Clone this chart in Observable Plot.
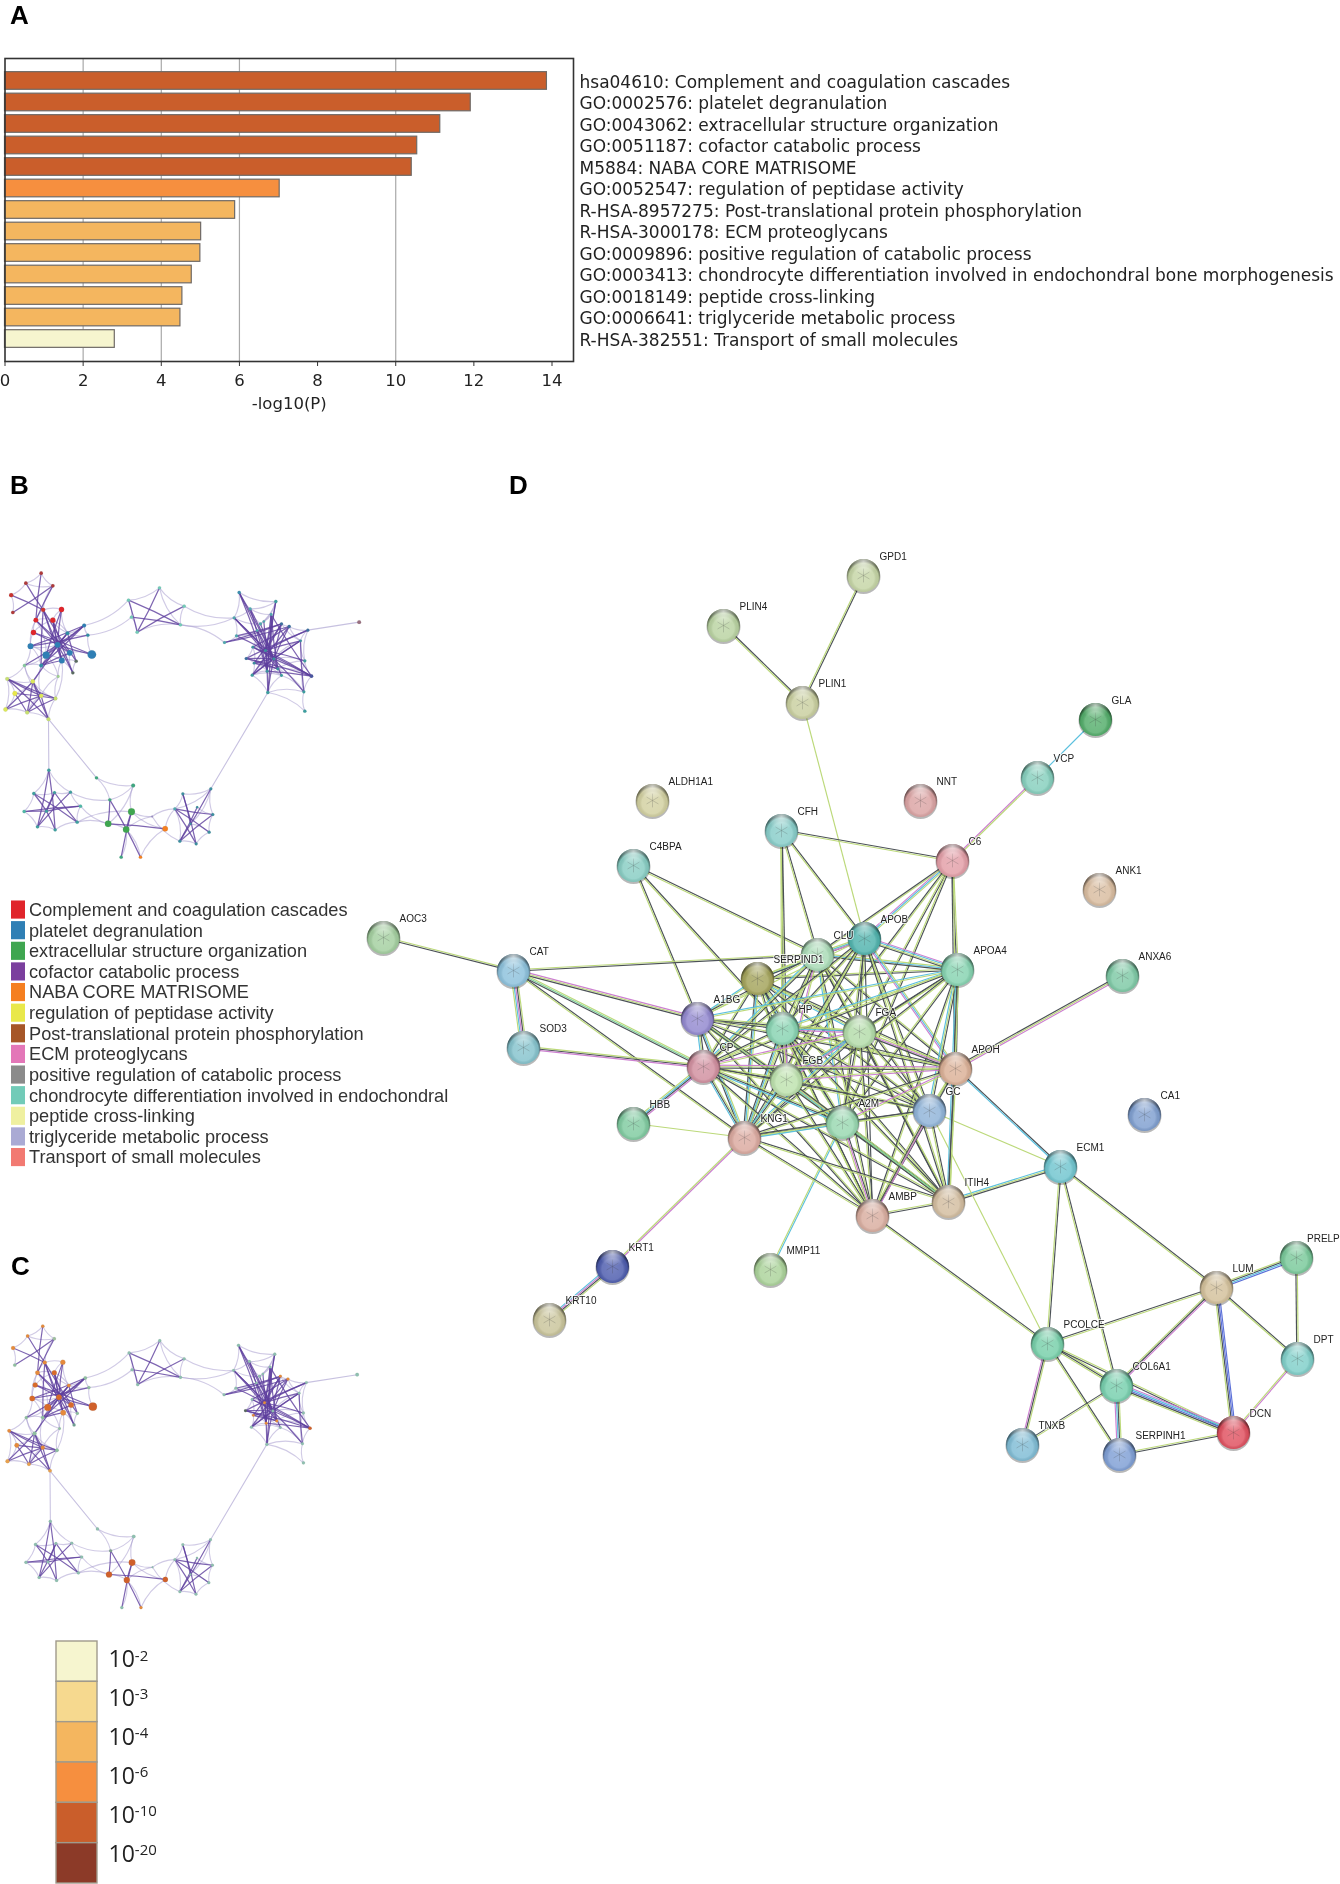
<!DOCTYPE html>
<html><head><meta charset="utf-8">
<script src="https://cdn.jsdelivr.net/npm/d3@7"></script>
<script src="https://cdn.jsdelivr.net/npm/@observablehq/plot@0.6"></script>
<style>
html,body{margin:0;padding:0;background:#fff}
#page{position:relative;width:1340px;height:1884px;overflow:hidden;background:#fff;filter:blur(.4px)}
#page>div{position:absolute}
.letter{font:bold 26px/26px "Liberation Sans",Arial,sans-serif;color:#000}
svg{display:block}
</style></head><body><div id="page"></div>
<script>
// ---------- Panel A ----------
const terms = ["hsa04610: Complement and coagulation cascades","GO:0002576: platelet degranulation","GO:0043062: extracellular structure organization","GO:0051187: cofactor catabolic process","M5884: NABA CORE MATRISOME","GO:0052547: regulation of peptidase activity","R-HSA-8957275: Post-translational protein phosphorylation","R-HSA-3000178: ECM proteoglycans","GO:0009896: positive regulation of catabolic process","GO:0003413: chondrocyte differentiation involved in endochondral bone morphogenesis","GO:0018149: peptide cross-linking","GO:0006641: triglyceride metabolic process","R-HSA-382551: Transport of small molecules"];
const logP = [13.87,11.92,11.14,10.55,10.41,7.03,5.89,5.02,5.0,4.78,4.54,4.49,2.81];
const barFill = ["#ca5e2b","#ca5e2b","#ca5e2b","#ca5e2b","#ca5e2b","#f68f3f","#f4b65f","#f4b65f","#f4b65f","#f4b65f","#f4b65f","#f4b65f","#f6f5cf"];
const xTicks = [0,2,4,6,8,10,12,14];
const gridTicks = [2,4,6,10];

// ---------- Panels B / C ----------
const legendTerms = ["Complement and coagulation cascades","platelet degranulation","extracellular structure organization","cofactor catabolic process","NABA CORE MATRISOME","regulation of peptidase activity","Post-translational protein phosphorylation","ECM proteoglycans","positive regulation of catabolic process","chondrocyte differentiation involved in endochondral","peptide cross-linking","triglyceride metabolic process","Transport of small molecules"];
const legendFill = ["#e0252b","#2f7fb5","#3fa650","#7b3f9e","#f57f20","#e9e84a","#a65628","#e377b8","#8b8b8b","#72cbb8","#eff0a0","#aaaad4","#f27a72"];
const pLabels = ["10-2","10-3","10-4","10-6","10-10","10-20"];
const pFill = ["#f6f5cf","#f6d98f","#f4b65f","#f68f3f","#ca5e2b","#8c3a28"];

// id, x, y, radius, colour in B, colour in C
const ringNodes = [
["r1",122,338,1.5,"#b03a3a","#e68a3c"],["r2",76,368,1.5,"#b03a3a","#e68a3c"],["r3",157,376,1.5,"#b03a3a","#9fbf9f"],["r4",32,404,1.8,"#c8322f","#e68a3c"],["r5",37,456,1.5,"#b03a3a","#8fbfa0"],
["r6",128,448,1.8,"#d0332f","#e68a3c"],["r7",183,447,2.2,"#e0252b","#e68a3c"],["r8",106,479,2,"#e0252b","#e68a3c"],["r9",157,479,2.2,"#e0252b","#d96a2a"],["r10",99,516,2.2,"#e0252b","#d96a2a"],
["b1",251,495,1.6,"#2f7fb5","#8fbfa0"],["b2",262,524,1.4,"#2f8fa5","#8fbfa0"],["b3",201,518,1.6,"#2f8fa5","#e68a3c"],["b4",90,557,2.4,"#2f7fb5","#d96a2a"],["b5",171,553,2.4,"#2f7fb5","#d96a2a"],
["b6",137,584,3,"#2f7fb5","#d96a2a"],["b7",208,577,2.4,"#2f7fb5","#d96a2a"],["b8",184,600,2.4,"#2f7fb5","#e68a3c"],["b9",274,582,3.6,"#2f7fb5","#d0602b"],["b10",227,602,1.4,"#5a6a60","#8fbfa0"],
["b11",217,637,1.4,"#5a6a60","#6fa090"],["b12",122,615,1.6,"#2f8fa5","#8fbfa0"],
["y1",72,615,1.4,"#88c8a0","#8fbfa0"],["y2",20,655,1.6,"#c8e070","#e68a3c"],["y3",97,663,1.8,"#dde85a","#8fbfa0"],["y4",43,699,2,"#e9e84a","#e68a3c"],["y5",122,706,1.8,"#dde85a","#e68a3c"],
["y6",165,714,1.6,"#c8e070","#8fbfa0"],["y7",15,747,1.8,"#dde85a","#e8a04e"],["y8",80,756,1.6,"#c8e070","#e8a04e"],["y9",144,776,1.6,"#c8e070","#e8a04e"],["y10",173,648,1.2,"#a0d090","#8fbfa0"],
["t1",384,419,1.4,"#72cbb8","#8fc0b0"],["t2",477,382,1.4,"#72cbb8","#8fc0b0"],["t3",551,437,1.4,"#72cbb8","#8fc0b0"],["t4",393,470,1.4,"#72cbb8","#8fc0b0"],["t5",410,515,1.4,"#72cbb8","#8fc0b0"],["t6",540,493,1.4,"#72cbb8","#8fc0b0"],
["p1",716,396,1.4,"#3c8fb0","#8fc0b0"],["p2",826,423,1.4,"#3c9fa0","#8fc0b0"],["p3",749,445,1.3,"#50a8b0","#8fc0b0"],["p4",701,472,1.3,"#50a8b0","#8fc0b0"],["p5",812,462,1.2,"#50a8b0","#8fc0b0"],
["p6",780,490,1.3,"#50a8b0","#8fc0b0"],["p7",708,526,1.3,"#50a8b0","#8fc0b0"],["p8",672,546,1.3,"#50a8b0","#8fc0b0"],["p10",843,490,1.3,"#3c6fa0","#e68a3c"],["p11",866,498,1.4,"#3c6fa0","#e68a3c"],
["p12",922,509,1.3,"#3c6fa0","#8fc0b0"],["p13",900,541,1.2,"#3c8fa0","#8fc0b0"],["p14",757,560,1.2,"#3c8fa0","#8fc0b0"],["p15",737,594,1.3,"#3c6fa0","#5a6a60"],["p16",795,570,1.3,"#3c8fa0","#e68a3c"],
["p17",820,595,1.3,"#3c8fa0","#8fc0b0"],["p18",913,601,1.3,"#3c9fa0","#8fc0b0"],["p19",761,608,1.2,"#3c8fa0","#e68a3c"],["p20",800,632,1.3,"#3c8fa0","#e68a3c"],["p21",832,625,1.3,"#3c8fa0","#e68a3c"],
["p22",755,644,1.3,"#3c9fa0","#8fc0b0"],["p23",843,645,1.2,"#3c9fa0","#8fc0b0"],["p24",933,647,1.5,"#4a55a0","#d0602b"],["p25",910,694,1.3,"#3c9fa0","#8fc0b0"],["p26",802,696,1.4,"#3c9fa0","#8fc0b0"],
["p27",913,752,1.4,"#3c9fa0","#8fc0b0"],["p28",770,510,1.1,"#50a8b0","#8fc0b0"],["p29",790,483,1.1,"#50a8b0","#8fc0b0"],["solo",1076,485,1.6,"#9a6f80","#8fc0b0"],
["g1",145,929,1.4,"#3fa0a0","#8fc0b0"],["g2",100,999,1.4,"#3fa0a0","#8fc0b0"],["g3",162,996,1.3,"#3fa0a0","#8fc0b0"],["g4",210,995,1.3,"#3fa0a0","#8fc0b0"],["g5",240,1037,1.4,"#50b8a8","#8fc0b0"],
["g6",71,1053,1.4,"#50b8a8","#8fc0b0"],["g7",138,1052,1.3,"#3fa0a0","#8fc0b0"],["g8",230,1085,1.4,"#3fa0a0","#8fc0b0"],["g9",111,1099,1.4,"#3fa0a0","#8fc0b0"],["g10",164,1108,1.4,"#3fa0a0","#8fc0b0"],
["m1",288,952,1.4,"#3fa680","#8fc0b0"],["m2",398,975,1.6,"#3fa680","#8fc0b0"],["m3",328,1018,1.4,"#3fa680","#7fa090"],["m4",393,1054,2.9,"#3fa650","#d0602b"],["m5",323,1090,2.7,"#3fa650","#d0602b"],
["m6",377,1107,2.7,"#3fa650","#d0602b"],["m7",494,1105,2.3,"#f57f20","#d0602b"],["m8",362,1190,1.4,"#3fa680","#8fc0b0"],["m9",420,1190,1.4,"#f57f20","#e68a3c"],["m10",455,1068,.8,"#9f8fc8","#8fc0b0"],
["n1",631,985,1.3,"#3c8fa0","#8fc0b0"],["n2",547,1000,1.3,"#3c8fa0","#8fc0b0"],["n3",523,1045,1.3,"#50a8b0","#8fc0b0"],["n4",637,1062,1.3,"#3c8fa0","#8fc0b0"],["n6",626,1115,1.3,"#3c8fa0","#8fc0b0"],
["n7",538,1142,1.3,"#3c8fa0","#8fc0b0"],["n8",587,1150,1.3,"#3c8fa0","#8fc0b0"],["n9",590,1040,1,"#3c8fa0","#8fc0b0"],["n10",570,1090,1,"#3c8fa0","#8fc0b0"]
];
const ringStrong = "r2-r6 r1-r8 r3-r8 r4-r6 r5-r3 r6-b8 r9-b8 r7-b6 r10-b9 b1-b4 b1-b6 r9-b11 b5-b11 b3-b10 b4-b2 r8-b7 b5-b9 b12-b3 r6-b12 b1-b12 r6-b5 r8-b5 r9-b5 r7-b5 r10-b5 b5-b3 b5-b1 b5-b7 b5-b8 r6-b10 b6-b3 y1-b5 y3-b5 b12-b8 b12-b7 y2-y6 y4-y6 y7-y3 y8-y3 y5-y9 y3-y9 y2-y5 y7-y5 y8-y6 y4-y8 y5-y3 y5-y8 y9-y2 t1-t5 t5-t2 t4-t6 t5-t3 t1-t6 p1-p17 p1-p16 p3-p20 p4-p16 p4-p21 p8-p10 p7-p16 p5-p26 p5-p20 p6-p23 p10-p19 p11-p22 p12-p15 p13-p22 p14-p24 p15-p24 p16-p24 p17-p25 p13-p25 p17-p24 p11-p14 p29-p20 p28-p21 p4-p17 p1-p20 p2-p20 p2-p16 p3-p17 p5-p16 p5-p21 p5-p24 p10-p16 p10-p17 p11-p17 p12-p16 p13-p16 p13-p17 p18-p16 p24-p20 p16-p26 p17-p26 p14-p17 p15-p17 p15-p21 p21-p19 p8-p11 p7-p10 p19-p17 p22-p17 g1-g10 g1-g9 g2-g8 g3-g9 g4-g9 g6-g5 g6-g7 g7-g3 g2-g7 g7-g5 g7-g10 g3-g8 m3-m5 m4-m8 m6-m4 m5-m7 m3-m9 n2-n8 n1-n7 n3-n6 n4-n3 n2-n10 n9-n7 n3-n8 n4-n7".split(" ");
const ringWeak = "r2-r1 r1-r3 r2-r3 r4-r5 r4-r2 r3-r6 r6-r7 r7-r9 r6-r8 r8-r10 r9-r10 r7-b3 b1-b2 b2-b3 b1-b3 b9-b2 b9-b7 b10-b11 b8-b11 b4-b5 b4-b6 b6-b8 b12-y1 y1-y3 y1-b6 y1-y2 y2-y4 y2-y7 y4-y7 y7-y8 y8-y9 y9-y6 y6-y10 y10-b12 y3-y6 y3-b12 y10-b8 y5-b12 r6-b3 r8-b6 r9-b3 r10-b4 r8-r9 r8-b4 b4-b12 b6-b12 b12-y3 y1-b4 y1-y5 y3-y5 y2-y3 y4-y3 y5-y6 y8-y5 y10-y5 b8-y6 b6-y10 b7-b11 b5-b7 b7-b8 b10-b8 t1-t2 t2-t3 t1-t4 t4-t5 t2-t6 t3-t6 t5-t6 b2-t4 b1-t1 p4-t6 p4-t3 p8-t6 p1-p2 p2-p3 p1-p4 p4-p7 p8-p7 p2-p6 p18-p24 p13-p18 p12-p13 p11-p12 p10-p11 p3-p5 p6-p29 p14-p15 p15-p19 p19-p22 p22-p20 p20-p23 p23-p21 p16-p19 p17-p21 p24-p25 p25-p27 p26-p27 p26-p25 p26-p22 p26-p23 p13-p11 p18-p25 p12-p18 p14-p16 p28-p16 p3-p6 p3-p4 p4-p6 p1-p3 p2-p29 p5-p29 p6-p28 p7-p28 p28-p14 p14-p19 p16-p17 p17-p18 p13-p17 p18-p21 p24-p21 p23-p25 p21-p25 p10-p13 p16-p22 p19-p20 p19-p23 p22-p23 g1-g2 g1-g4 g2-g6 g6-g9 g9-g10 g10-g8 g5-g8 g4-g5 g2-g3 g3-g4 g5-m5 g8-m5 g4-m3 g8-m4 m1-m2 m2-m3 m2-m5 m2-m4 m1-m3 m4-m10 m6-m9 m6-m8 m7-m9 m7-n3 m10-n3 m10-n7 m5-m6 m6-m10 m7-m4 n1-n2 n2-n3 n1-n4 n4-n6 n6-n8 n7-n8 n3-n7 n1-n3 n9-n4 n10-n6 n1-n10".split(" ");
const ringBridges = ["p12-solo","p26-n1","y9-g1","y9-m1"];

// ---------- Panel D ----------
const evidenceColor = {k:"#4b5156",g:"#bcd97a",p:"#cc7fd0",c:"#5bc0de",b:"#5a6fd8",n:"#7fd39a"};
const proteins = [
["PLIN4",723,625,"#b9d3a1"],["GPD1",863,575,"#c5d5a5"],["PLIN1",802,702,"#c9cf9f"],["ALDH1A1",652,800,"#d2d0a0"],["CFH",781,830,"#87cdc9"],["C4BPA",633,865,"#87cdc3"],["AOC3",383,937,"#a3cf9f"],["CAT",513,970,"#8cc1dc"],
["SERPIND1",757,978,"#a3a35a"],["CLU",817,954,"#a8dab5"],["APOB",864,938,"#4fb3ad"],["APOA4",957,969,"#85d3b0"],["A1BG",697,1018,"#9288cf"],["HP",782,1028,"#87d3b1"],["FGA",859,1031,"#b3dca9"],["SOD3",523,1047,"#85c3cd"],
["CP",703,1066,"#d18f9f"],["FGB",786,1079,"#bde2ad"],["APOH",955,1068,"#dbb096"],["GC",929,1110,"#8fb3d8"],["HBB",633,1123,"#7fcba0"],["A2M",842,1122,"#98d8b0"],["KNG1",744,1137,"#dba99f"],["AMBP",872,1215,"#d9ad9f"],
["ITIH4",948,1201,"#d3bd9f"],["KRT1",612,1266,"#4d5cae"],["MMP11",770,1269,"#abd39a"],["KRT10",549,1319,"#c9c49a"],["GLA",1095,719,"#53ad6a"],["VCP",1037,777,"#85cfbd"],["NNT",920,800,"#dba3a3"],["C6",952,860,"#e39ea7"],
["ANK1",1099,889,"#d9bc9f"],["ANXA6",1122,975,"#7dc9a5"],["CA1",1144,1114,"#7f9fd0"],["ECM1",1060,1166,"#70c5cf"],["LUM",1216,1287,"#d3c09a"],["PRELP",1296,1257,"#79c99a"],["DPT",1297,1358,"#7fcfc9"],["PCOLCE",1047,1343,"#76cfa9"],
["COL6A1",1116,1385,"#76cfad"],["TNXB",1022,1444,"#7fbcd5"],["SERPINH1",1119,1454,"#7f9fd5"],["DCN",1233,1432,"#e0505f"]
];
const outerLinks = ["GPD1 PLIN1 kg","PLIN4 PLIN1 kg","PLIN1 APOB g","VCP GLA c","C6 VCP pg","CFH C6 kg","C4BPA CLU kg","C4BPA A1BG kg","C4BPA HP kg","CFH HP kg","CFH CLU kg","CFH APOB kg","CFH FGB kg","AOC3 CAT gk","CAT CLU gk","CAT A1BG pgk","CAT SOD3 gkpcg","CAT CP gnk","CAT KNG1 kg","SOD3 CP gkp","CP HBB pkcg","HBB KNG1 g","KNG1 KRT1 pg","KRT1 KRT10 gkpc","A2M MMP11 cg","ANXA6 APOH pgk","APOH ECM1 kc","ITIH4 ECM1 cgk","GC ECM1 g","ECM1 PCOLCE kg","ECM1 LUM kg","ECM1 COL6A1 kg","AMBP PCOLCE kg","GC PCOLCE g","PCOLCE LUM kg","PCOLCE COL6A1 gkg","PCOLCE TNXB gkp","PCOLCE SERPINH1 kg","PCOLCE DCN gk","COL6A1 TNXB gk","COL6A1 SERPINH1 gkcp","COL6A1 DCN pcbkg","COL6A1 LUM gkp","LUM PRELP gkcb","LUM DPT kg","LUM DCN bbkg","PRELP DPT gk","DPT DCN pg","SERPINH1 DCN gk","C6 APOB gcp","C6 CLU gk","C6 FGA kg","C6 APOA4 gk","C6 APOH gk","C6 A2M kg","C6 FGB gk"];
const coreLinks = ["SERPIND1 CLU gc","SERPIND1 APOB gk","SERPIND1 APOA4 gk","SERPIND1 A1BG gc","SERPIND1 HP kg","SERPIND1 FGA kgc","SERPIND1 CP kg","SERPIND1 FGB kg","SERPIND1 APOH kg","SERPIND1 GC gk","SERPIND1 A2M gkc","SERPIND1 KNG1 gck","SERPIND1 AMBP kg","SERPIND1 ITIH4 kg",
"CLU APOB gcp","CLU APOA4 gck","CLU A1BG gk","CLU HP gk","CLU FGA gk","CLU CP kgc","CLU FGB gp","CLU APOH gk","CLU GC gk","CLU A2M gc","CLU KNG1 kg","CLU AMBP kg","CLU ITIH4 gk",
"APOB APOA4 pcgk","APOB A1BG g","APOB HP gk","APOB FGA gk","APOB CP gk","APOB FGB kg","APOB APOH gcp","APOB GC kg","APOB A2M kg","APOB KNG1 gk","APOB AMBP k","APOB ITIH4 gk",
"APOA4 A1BG gc","APOA4 HP gc","APOA4 FGA gk","APOA4 CP kg","APOA4 FGB gk","APOA4 APOH kg","APOA4 GC kgc","APOA4 A2M kg","APOA4 KNG1 gk","APOA4 AMBP gk","APOA4 ITIH4 gkc",
"A1BG HP gk","A1BG FGA gk","A1BG CP kgc","A1BG FGB gc","A1BG APOH gk","A1BG GC gk","A1BG A2M kcg","A1BG KNG1 gck","A1BG AMBP gk","A1BG ITIH4 gk",
"HP FGA gcp","HP CP gk","HP FGB pgk","HP APOH kg","HP GC gk","HP A2M kg","HP KNG1 gck","HP AMBP kg","HP ITIH4 kg",
"FGA CP gp","FGA FGB pcg","FGA APOH gpk","FGA GC kg","FGA A2M gk","FGA KNG1 kgc","FGA AMBP kg","FGA ITIH4 gk",
"CP FGB gk","CP APOH pgk","CP GC kg","CP A2M gkc","CP KNG1 gkc","CP AMBP kg","CP ITIH4 gk",
"FGB APOH gp","FGB GC gk","FGB A2M gpc","FGB KNG1 gkc","FGB AMBP kg","FGB ITIH4 kg",
"APOH GC kg","APOH A2M gp","APOH KNG1 gk","APOH AMBP kg","APOH ITIH4 gk",
"GC A2M gk","GC KNG1 gk","GC AMBP pkg","GC ITIH4 kg",
"A2M KNG1 cgk","A2M AMBP kpg","A2M ITIH4 gnk","KNG1 AMBP kg","KNG1 ITIH4 kg","AMBP ITIH4 gk"];

// ---------- helpers ----------
const page = document.getElementById("page");
function place(el,left,top){const d=document.createElement("div");d.style.left=left+"px";d.style.top=top+"px";d.appendChild(el);page.appendChild(d);return el;}
const sans='"Liberation Sans",Arial,sans-serif';

// Panel A
place(Plot.plot({
  width:1340,height:420,marginLeft:4.5,marginRight:767,marginTop:58,marginBottom:59,
  style:{background:"transparent",fontFamily:'"DejaVu Sans",sans-serif',fontSize:"16px",color:"#222"},
  x:{domain:[0,14.55]},
  y:{domain:terms,axis:null,paddingInner:0.18,paddingOuter:0.635,round:false},
  color:{type:"identity"},
  marks:[
    Plot.ruleX(gridTicks,{stroke:"#a9a9a9",strokeWidth:1.2}),
    Plot.barX(terms.map((t,i)=>({t,v:logP[i],f:barFill[i]})),{x:"v",y:"t",fill:"f",stroke:"#6f6a66",strokeWidth:1.2}),
    Plot.frame({stroke:"#333",strokeWidth:1.6}),
    Plot.axisX({ticks:xTicks,tickSize:5,tickPadding:8,label:"-log10(P)",labelAnchor:"center",labelArrow:"none",labelOffset:47,fontSize:16.5,stroke:"#333"}),
    Plot.text(terms,{y:d=>d,text:d=>d,frameAnchor:"right",textAnchor:"start",dx:6,dy:1.2,fontSize:17,fill:"#222"})
  ]
}),0,0);

// Panels B and C share one layout; a light edge bows toward the middle of its own cluster
const byId = new Map(ringNodes.map(n=>[n[0],n]));
const clusterOf = id=>id.replace(/\d+$/,"");
const centre = d3.rollup(ringNodes,v=>[d3.mean(v,n=>n[1]),d3.mean(v,n=>n[2])],n=>clusterOf(n[0]));
const edgesFrom = (list)=>list.map(s=>{
  let [a,b]=s.split("-"); a=byId.get(a); b=byId.get(b);
  const c=centre.get(clusterOf(a[0])), dx=b[1]-a[1], dy=b[2]-a[2];
  const side=(c[0]-(a[1]+b[1])/2)*dy-(c[1]-(a[2]+b[2])/2)*dx;
  return side>0?{a,b}:{a:b,b:a};
});
const strongE=edgesFrom(ringStrong),weakE=edgesFrom(ringWeak),bridgeE=edgesFrom(ringBridges);
function ring(colorIdx,rangeX,rangeY,w,h,scaleR){
  const link=(data,o)=>Plot.arrow(data,{x1:d=>d.a[1],y1:d=>d.a[2],x2:d=>d.b[1],y2:d=>d.b[2],headLength:0,...o});
  return Plot.plot({
    width:w,height:h,margin:0,
    style:{background:"transparent"},
    x:{domain:[0,1440],range:rangeX,axis:null},
    y:{domain:[0,1440],range:rangeY,axis:null},
    r:{type:"identity"},
    color:{type:"identity"},
    marks:[
      link(weakE,{stroke:"#a99fcf",strokeOpacity:.55,strokeWidth:1.15*scaleR,bend:18}),
      link(bridgeE,{stroke:"#a99fcf",strokeOpacity:.65,strokeWidth:1.1*scaleR,bend:0}),
      link(strongE,{stroke:"#5e3f9e",strokeOpacity:.8,strokeWidth:1.25*scaleR,bend:3}),
      Plot.dot(ringNodes,{x:d=>d[1],y:d=>d[2],r:d=>d[3]*scaleR*1.2,fill:d=>d[colorIdx],stroke:"#6a7a70",strokeOpacity:.3,strokeWidth:.3})
    ]
  });
}
place(ring(4,[0,480],[0,480],480,480,1),0,460);
place(ring(5,[2.06,476.6],[14,489.6],480,500,.95),0,1200);

// Pathway legend
place(Plot.plot({
  width:460,height:272,margin:0,
  style:{background:"transparent",fontFamily:sans},
  x:{domain:["a"],range:[11,25.7],padding:0,axis:null},
  y:{domain:legendTerms,range:[0,270.6],padding:0.12,axis:null,round:false},
  color:{type:"identity"},
  marks:[
    Plot.cell(legendTerms,{x:()=>"a",y:d=>d,fill:(d,i)=>legendFill[i]}),
    Plot.text(legendTerms,{y:d=>d,text:d=>d,frameAnchor:"left",textAnchor:"start",dx:28.5,fontSize:18.2,fill:"#333"})
  ]
}),0,898);

// P-value legend: swatches and labels have slightly different steps in the reference
place(Plot.plot({
  width:120,height:244,margin:0,
  style:{background:"transparent"},
  x:{domain:["a"],range:[55.7,97],padding:0,axis:null},
  y:{domain:pLabels,range:[1,243],padding:0,axis:null,round:false},
  color:{type:"identity"},
  marks:[Plot.cell(pLabels,{x:()=>"a",y:d=>d,fill:(d,i)=>pFill[i],stroke:"#a09a8c",strokeWidth:1.4})]
}),0,1640);
const pText = Plot.plot({
  width:120,height:236,margin:0,
  style:{background:"transparent",fontFamily:'"Open Sans",sans-serif'},
  y:{type:"band",domain:pLabels,range:[0,233.4],padding:0,axis:null,round:false},
  marks:[Plot.text(pLabels,{y:d=>d,text:d=>d,frameAnchor:"left",textAnchor:"start",dx:1,fontSize:23,fill:"#222"})]
});
pText.querySelectorAll("text").forEach(t=>{
  const m=/^10(-\d+)$/.exec(t.textContent); if(!m) return;
  t.textContent="10";
  const s=document.createElementNS("http://www.w3.org/2000/svg","tspan");
  s.setAttribute("dy","-0.45em");s.setAttribute("font-size","15");s.textContent=m[1];t.appendChild(s);
});
place(pText,107,1640);

// Panel D
const P = new Map(proteins.map(p=>[p[0],p]));
const strands = [...outerLinks,...coreLinks].flatMap(s=>{
  const [a,b,ev]=s.split(" ");const A=P.get(a),B=P.get(b);
  const dx=B[1]-A[1],dy=B[2]-A[2],L=Math.hypot(dx,dy);
  return [...ev].map((c,i)=>{const o=(i-(ev.length-1)/2)*1.45;
    return {x1:A[1]-dy/L*o,y1:A[2]+dx/L*o,x2:B[1]-dy/L*o,y2:B[2]+dx/L*o,c:evidenceColor[c]};});
});
const defs=()=>{
  const d=d3.create("svg:defs");
  const g1=d.append("radialGradient").attr("id","gloss").attr("cx",.5).attr("cy",.58).attr("r",.52);
  [[0,"#fff",.22],[.62,"#fff",.16],[.86,"#000",.05],[1,"#000",.5]].forEach(([o,c,a])=>g1.append("stop").attr("offset",o).attr("stop-color",c).attr("stop-opacity",a));
  const g2=d.append("radialGradient").attr("id","shine").attr("cx",.5).attr("cy",.08).attr("r",.42);
  [[0,"#fff",.65],[1,"#fff",0]].forEach(([o,c,a])=>g2.append("stop").attr("offset",o).attr("stop-color",c).attr("stop-opacity",a));
  return d.node();
};
const dp=d=>d[1],dq=d=>d[2];
const labelOpts={x:dp,y:dq,text:d=>d[0],dy:-19,textAnchor:"start",fontSize:10,fill:"#222",stroke:"#fff",strokeOpacity:.75,strokeWidth:2};
place(Plot.plot({
  width:980,height:1100,margin:0,
  style:{background:"transparent",fontFamily:sans},
  x:{domain:[360,1340],range:[0,980],axis:null},
  y:{domain:[440,1540],range:[0,1100],axis:null},
  color:{type:"identity"},
  marks:[
    defs,
    Plot.link(strands,{x1:"x1",y1:"y1",x2:"x2",y2:"y2",stroke:"c",strokeWidth:1.15}),
    Plot.dot(proteins,{x:dp,y:dq,r:17,dy:1.6,fill:"#000",fillOpacity:.28}),
    Plot.dot(proteins,{x:dp,y:dq,r:16.5,fill:d=>d[3]}),
    Plot.dot(proteins,{x:dp,y:dq,r:6.5,symbol:"asterisk",stroke:d=>d3.color(d[3]).darker(1.6).formatHex(),strokeOpacity:.45,strokeWidth:1}),
    Plot.dot(proteins,{x:dp,y:dq,r:16.5,fill:"url(#gloss)"}),
    Plot.dot(proteins,{x:dp,y:dq,r:16.5,fill:"url(#shine)"}),
    Plot.text(proteins.filter(p=>p[0]!=="PRELP"),{...labelOpts,dx:16}),
    Plot.text(proteins.filter(p=>p[0]==="PRELP"),{...labelOpts,dx:10.5})
  ]
}),360,440);

// Panel letters
[["A",10,2],["B",10,472],["C",11,1253],["D",509,472]].forEach(([t,x,y])=>{
  const s=document.createElement("span");s.className="letter";s.textContent=t;
  place(s,x,y);
});
</script></body></html>
